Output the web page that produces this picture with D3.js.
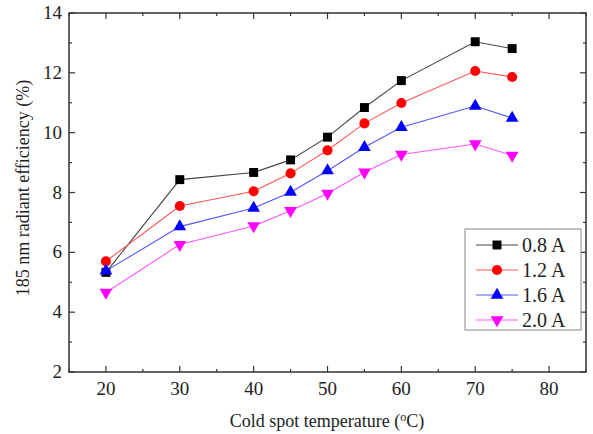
<!DOCTYPE html>
<html>
<head>
<meta charset="utf-8">
<script src="https://cdn.jsdelivr.net/npm/d3@7"></script>
<style>
  body { margin: 0; background: #fff; }
  svg text { font-family: "Liberation Serif", "Times New Roman", serif; fill: #222; }
</style>
</head>
<body>
<div id="chart"></div>
<script>
// data
const temps = [20, 30, 40, 45, 50, 55, 60, 70, 75];
const eff08 = [5.33, 8.43, 8.67, 9.09, 9.85, 10.84, 11.74, 13.04, 12.81];
const eff12 = [5.70, 7.55, 8.04, 8.64, 9.41, 10.31, 10.99, 12.06, 11.86];
const eff16 = [5.38, 6.86, 7.48, 8.01, 8.73, 9.51, 10.18, 10.89, 10.49];
const eff20 = [4.66, 6.26, 6.88, 7.39, 7.97, 8.68, 9.27, 9.62, 9.24];
const seriesNames = ["0.8 A", "1.2 A", "1.6 A", "2.0 A"];
const xTicks = [20, 30, 40, 50, 60, 70, 80];
const yTicks = [2, 4, 6, 8, 10, 12, 14];

const width = 593, height = 434;
const margin = {top: 13, right: 7, bottom: 62, left: 69};

const series = [
    {name: seriesNames[0], values: eff08, color: "#000", line: "#444", symbol: d3.symbolSquare, size: 80},
    {name: seriesNames[1], values: eff12, color: "#f00", line: "#f55", symbol: d3.symbolCircle, size: 80},
    {name: seriesNames[2], values: eff16, color: "#00f", line: "#55f", symbol: d3.symbolTriangle, size: 70},
    {name: seriesNames[3], values: eff20, color: "#f0f", line: "#f5f", symbol: d3.symbolTriangle, size: 70, flip: true}
];

const svg = d3.select("#chart").append("svg")
    .attr("width", width)
    .attr("height", height);

const x = d3.scaleLinear().domain([15, 85]).range([margin.left, width - margin.right]);
const y = d3.scaleLinear().domain([2, 14]).range([height - margin.bottom, margin.top]);

const x0 = x.range()[0], x1 = x.range()[1], y0 = y.range()[0], y1 = y.range()[1];

// inward ticks on all four sides
const xMinor = d3.range(15, 86, 5);
const yMinor = d3.range(2, 14.1, 1);
const ticks = svg.append("g").attr("stroke", "#333").attr("stroke-width", 1.2);
xMinor.forEach(v => {
    const len = v % 10 === 0 ? 6 : 3;
    ticks.append("line").attr("x1", x(v)).attr("x2", x(v)).attr("y1", y0).attr("y2", y0 - len);
    ticks.append("line").attr("x1", x(v)).attr("x2", x(v)).attr("y1", y1).attr("y2", y1 + len);
});
yMinor.forEach(v => {
    const len = v % 2 === 0 ? 6 : 3;
    ticks.append("line").attr("y1", y(v)).attr("y2", y(v)).attr("x1", x0).attr("x2", x0 + len);
    ticks.append("line").attr("y1", y(v)).attr("y2", y(v)).attr("x1", x1).attr("x2", x1 - len);
});

// frame
svg.append("rect")
    .attr("x", x0).attr("y", y1)
    .attr("width", x1 - x0).attr("height", y0 - y1)
    .attr("fill", "none").attr("stroke", "#333").attr("stroke-width", 1.5);

// tick labels
svg.append("g").selectAll("text").data(xTicks).join("text")
    .attr("x", d => x(d)).attr("y", y0 + 23)
    .attr("text-anchor", "middle").style("font-size", "19px")
    .text(d => d);
svg.append("g").selectAll("text").data(yTicks).join("text")
    .attr("x", x0 - 7).attr("y", d => y(d) + 6)
    .attr("text-anchor", "end").style("font-size", "19px")
    .text(d => d);

// axis titles
const xt = svg.append("text")
    .attr("x", 327).attr("y", 427)
    .attr("text-anchor", "middle").style("font-size", "18px");
xt.append("tspan").text("Cold spot temperature (");
xt.append("tspan").attr("dy", -6).style("font-size", "12px").text("o");
xt.append("tspan").attr("dy", 6).text("C)");

svg.append("text")
    .attr("transform", "translate(29,188) rotate(-90)")
    .attr("text-anchor", "middle").style("font-size", "18px")
    .text("185 nm radiant efficiency (%)");

// lines and markers
const line = d3.line().x((d, i) => x(temps[i])).y(d => y(d));
series.forEach(s => {
    svg.append("path").datum(s.values)
        .attr("d", line)
        .attr("fill", "none").attr("stroke", s.line).attr("stroke-width", 1.1);
    svg.append("g").selectAll("path").data(s.values).join("path")
        .attr("d", d3.symbol(s.symbol, s.size))
        .attr("transform", (d, i) => "translate(" + x(temps[i]) + "," + y(d) + ")" + (s.flip ? " rotate(180)" : ""))
        .attr("fill", s.color);
});

// legend
const lg = svg.append("g").attr("transform", "translate(465,229)");
lg.append("rect").attr("width", 116).attr("height", 101)
    .attr("fill", "#fff").attr("stroke", "#888").attr("stroke-width", 1);
series.forEach((s, i) => {
    const ly = 16 + i * 25;
    lg.append("line").attr("x1", 11).attr("x2", 53).attr("y1", ly).attr("y2", ly)
        .attr("stroke", s.line).attr("stroke-width", 1.1);
    lg.append("path").attr("d", d3.symbol(s.symbol, s.size)())
        .attr("transform", "translate(32," + ly + ")" + (s.flip ? " rotate(180)" : ""))
        .attr("fill", s.color);
    lg.append("text").attr("x", 57).attr("y", ly + 7).style("font-size", "20px").text(s.name);
});
</script>
</body>
</html>
